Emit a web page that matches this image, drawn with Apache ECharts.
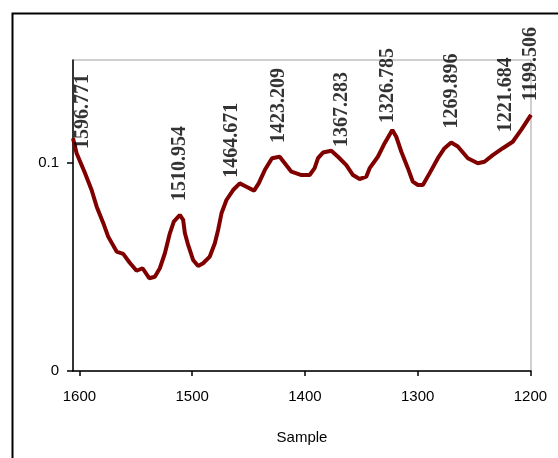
<!DOCTYPE html>
<html>
<head>
<meta charset="utf-8">
<script src="https://cdn.jsdelivr.net/npm/echarts@6/dist/echarts.min.js"></script>
<style>
  html, body { margin: 0; padding: 0; background: #fff; }
  #chart { width: 558px; height: 458px; }
</style>
</head>
<body>
<div id="chart"></div>
<script>
// Spectrum trace: wavenumber (cm-1) and absorbance
const wavenumbers = [
  1605.7, 1602.5, 1595.1, 1589.2, 1584.7, 1578.9, 1574.5, 1567.0, 1561.2, 1555.2,
  1549.3, 1544.0, 1538.1, 1533.1, 1528.7, 1524.2, 1519.8, 1516.3, 1511.0, 1508.0,
  1506.5, 1503.6, 1499.2, 1494.7, 1490.3, 1484.4, 1479.9, 1477.0, 1474.0, 1469.6,
  1463.7, 1457.8, 1451.9, 1445.1, 1441.0, 1435.6, 1429.2, 1422.4, 1417.9, 1412.0,
  1403.1, 1395.8, 1391.4, 1388.4, 1384.0, 1376.6, 1370.7, 1363.3, 1357.4, 1351.5,
  1345.6, 1342.6, 1335.3, 1329.3, 1322.5, 1319.0, 1314.5, 1308.7, 1304.3, 1299.8,
  1295.4, 1289.5, 1282.1, 1276.2, 1270.3, 1264.4, 1255.5, 1246.7, 1240.8, 1233.4,
  1224.5, 1215.7, 1208.2, 1199.5
];
const absorbance = [
  0.1119, 0.1047, 0.0952, 0.0870, 0.0790, 0.0712, 0.0646, 0.0574, 0.0563, 0.0519,
  0.0482, 0.0494, 0.0446, 0.0453, 0.0494, 0.0566, 0.0662, 0.0718, 0.0750, 0.0726,
  0.0663, 0.0606, 0.0534, 0.0505, 0.0518, 0.0550, 0.0614, 0.0678, 0.0758, 0.0822,
  0.0870, 0.0902, 0.0886, 0.0867, 0.0902, 0.0966, 0.1023, 0.1030, 0.0999, 0.0958,
  0.0942, 0.0942, 0.0975, 0.1023, 0.1050, 0.1059, 0.1030, 0.0990, 0.0942, 0.0923,
  0.0934, 0.0975, 0.1030, 0.1095, 0.1159, 0.1126, 0.1054, 0.0975, 0.0910, 0.0894,
  0.0894, 0.0950, 0.1023, 0.1071, 0.1098, 0.1079, 0.1023, 0.0999, 0.1006, 0.1038,
  0.1071, 0.1102, 0.1159, 0.1231
];

// Annotated peak positions and the trace height there
const peakPositions = [1596.771, 1510.954, 1464.671, 1423.209, 1367.283, 1326.785, 1269.896, 1221.684, 1199.506];
const peakHeights   = [0.1000, 0.0750, 0.0862, 0.1029, 0.1010, 0.1125, 0.1098, 0.1080, 0.1231];

// Axis ticks
const xTicks = [1600, 1500, 1400, 1300, 1200];
const yTicks = [0, 0.1];

const axisFont = { fontFamily: 'Liberation Sans, Arial, sans-serif', fontSize: 15, color: '#000' };

const chart = echarts.init(document.getElementById('chart'), null, { renderer: 'canvas' });

chart.setOption({
  animation: false,
  backgroundColor: '#fff',
  graphic: [{
    type: 'rect',
    left: 10, top: 11,
    shape: { width: 620, height: 520 },
    style: { fill: 'none', stroke: '#000', lineWidth: 2 },
    silent: true
  }],
  grid: {
    left: 73, top: 60, right: 27, bottom: 87,
    show: true, borderColor: '#a0a0a0', borderWidth: 1, backgroundColor: 'transparent'
  },
  xAxis: {
    type: 'value',
    inverse: true,
    min: 1199.5,
    max: 1605.7,
    name: 'Sample',
    nameLocation: 'middle',
    nameGap: 59,
    nameTextStyle: axisFont,
    axisLine: { onZero: false, lineStyle: { color: '#000', width: 1.5 } },
    axisTick: { show: true, length: 5, customValues: xTicks, lineStyle: { color: '#000', width: 1.5 } },
    axisLabel: Object.assign({ customValues: xTicks, margin: 18, formatter: v => String(v) }, axisFont),
    splitLine: { show: false }
  },
  yAxis: {
    type: 'value',
    min: 0,
    max: 0.1495,
    axisLine: { show: true, onZero: false, lineStyle: { color: '#000', width: 1.5 } },
    axisTick: { show: true, length: 6, customValues: yTicks, lineStyle: { color: '#000', width: 1.5 } },
    axisLabel: Object.assign({ customValues: yTicks, margin: 14, formatter: v => String(v) }, axisFont),
    splitLine: { show: false }
  },
  series: [
    {
      type: 'line',
      data: wavenumbers.map((w, i) => [w, absorbance[i]]),
      showSymbol: false,
      smooth: false,
      lineStyle: { color: '#800000', width: 4 },
      z: 3
    },
    {
      type: 'scatter',
      data: peakPositions.map((w, i) => [w, peakHeights[i]]),
      symbolSize: 0,
      label: {
        show: true,
        position: 'top',
        distance: 14,
        rotate: 90,
        align: 'left',
        verticalAlign: 'middle',
        formatter: p => p.value[0].toFixed(3),
        fontFamily: 'Liberation Serif, Times New Roman, serif',
        fontWeight: 'bold',
        fontSize: 20,
        color: '#000'
      },
      z: 4
    }
  ]
});
</script>
</body>
</html>
